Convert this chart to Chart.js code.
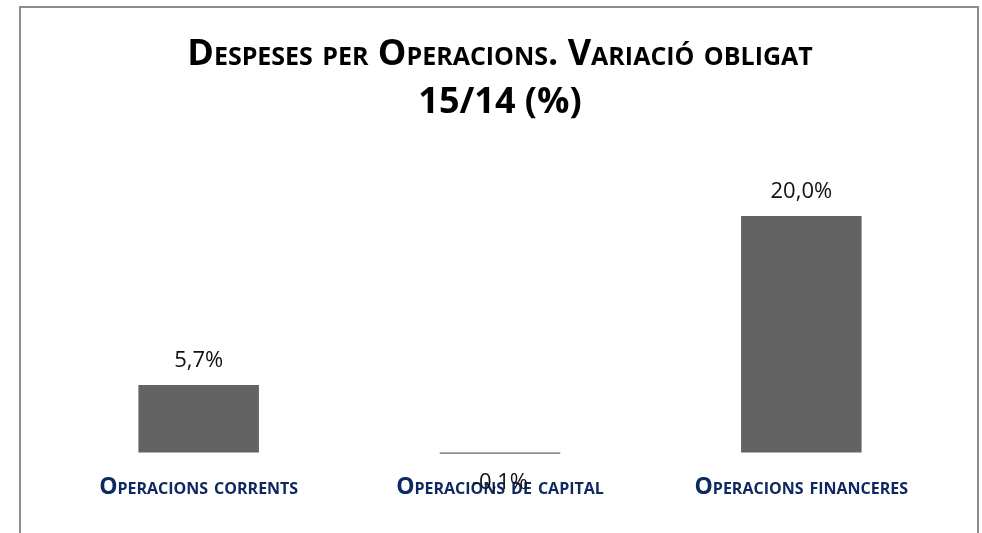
<!DOCTYPE html>
<html>
<head>
<meta charset="utf-8">
<script src="https://cdn.jsdelivr.net/npm/chart.js@4"></script>
<style>
    html, body { margin: 0; padding: 0; background: #ffffff; }
    #wrap { width: 982px; height: 533px; }
</style>
</head>
<body>
<div id="wrap"><canvas id="chart-despeses"></canvas></div>
<script>
// Despeses per operacions - variació obligat 15/14

const titleLines = ['Despeses per Operacions. Variació obligat', '15/14 (%)'];
const categories = ['Operacions corrents', 'Operacions de capital', 'Operacions financeres'];
const variacio = [5.7, -0.1, 20.0];

const BAR_COLOR = '#636363';
const LABEL_COLOR = '#0E2862';
const AXIS_COLOR = '#a6a6a6';

// Catalan number format: 5,7%
function formatPct(v) {
    return v.toFixed(1).replace('.', ',') + '%';
}

// outer frame like the Excel chart area
const framePlugin = {
    id: 'frame',
    beforeDraw(chart) {
        const ctx = chart.ctx;
        ctx.save();
        ctx.fillStyle = '#ffffff';
        ctx.fillRect(0, 0, chart.width, chart.height);
        ctx.strokeStyle = '#8c8c8c';
        ctx.lineWidth = 2;
        ctx.strokeRect(20, 7, 958, chart.height + 20);
        ctx.restore();
    }
};

// value labels outside the bar end
const valueLabels = {
    id: 'valueLabels',
    afterDraw(chart) {
        const ctx = chart.ctx;
        const meta = chart.getDatasetMeta(0);
        ctx.save();
        ctx.font = '22px "Open Sans"';
        ctx.fillStyle = '#111111';
        ctx.textAlign = 'center';
        ctx.textBaseline = 'middle';
        meta.data.forEach((bar, i) => {
            const v = variacio[i];
            const y = v >= 0 ? bar.y - 24 : bar.y + 29;
            ctx.fillText(formatPct(v), bar.x, y);
        });
        ctx.restore();
    }
};

const chart = new Chart(document.getElementById('chart-despeses'), {
    type: 'bar',
    data: {
        labels: categories,
        datasets: [{
            label: 'Variació (%)',
            data: variacio,
            backgroundColor: BAR_COLOR,
            borderWidth: 0,
            barPercentage: 0.4,
            categoryPercentage: 1.0
        }]
    },
    options: {
        responsive: true,
        maintainAspectRatio: false,
        animation: false,
        layout: {
            padding: { top: 19, left: 48, right: 30, bottom: 14 }
        },
        plugins: {
            legend: { display: false },
            tooltip: { enabled: false },
            title: {
                display: true,
                text: titleLines,
                color: '#000000',
                // 'small-caps' is slipped in through weight, the style field rejects it
                font: { family: 'Open Sans', size: 36, weight: 'small-caps bold', lineHeight: '48px' },
                padding: { top: 12, bottom: 30 }
            }
        },
        scales: {
            x: {
                grid: { display: false, drawTicks: false },
                border: { display: false },
                ticks: {
                    padding: 18,
                    color: LABEL_COLOR,
                    font: { family: 'Open Sans', size: 23, weight: 'small-caps bold', lineHeight: 1.2 }
                }
            },
            y: {
                min: -0.25,
                max: 25,
                border: { display: false },
                ticks: { display: false },
                grid: {
                    drawTicks: false,
                    lineWidth: 1.5,
                    color: (c) => (c.tick && c.tick.value === 0 ? AXIS_COLOR : 'transparent')
                }
            }
        }
    },
    plugins: [framePlugin, valueLabels]
});
</script>
</body>
</html>
